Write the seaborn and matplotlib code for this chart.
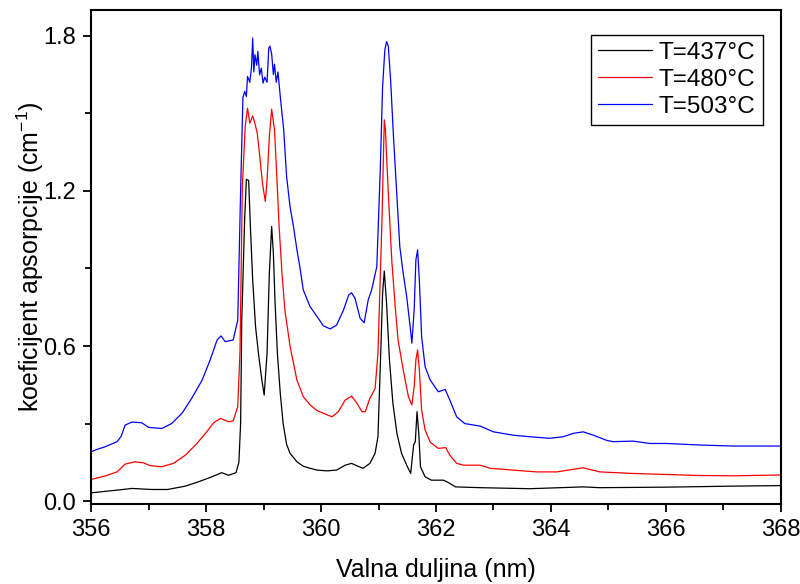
import numpy as np
import pandas as pd
import matplotlib
matplotlib.use("Agg")
import matplotlib.pyplot as plt
from matplotlib.ticker import MultipleLocator
import seaborn as sns

# ---- data ----
wl_437 = [356.00, 356.47, 356.71, 357.05, 357.33, 357.64, 357.87, 358.10, 358.27, 358.39,
          358.52, 358.57, 358.60, 358.62, 358.67, 358.70, 358.74, 358.77, 358.81, 358.86,
          358.91, 358.97, 359.01, 359.06, 359.10, 359.14, 359.17, 359.20, 359.24, 359.29,
          359.34, 359.40, 359.46, 359.58, 359.69, 359.81, 359.93, 360.10, 360.27, 360.42,
          360.53, 360.64, 360.73, 360.85, 360.94, 360.99, 361.04, 361.07, 361.10, 361.14,
          361.19, 361.25, 361.32, 361.40, 361.49, 361.56, 361.61, 361.64, 361.67, 361.70,
          361.73, 361.81, 361.92, 362.13, 362.22, 362.34, 362.77, 363.63, 364.56, 364.85,
          366.01, 367.17, 368.00]
ab_437 = [0.032, 0.043, 0.049, 0.045, 0.045, 0.058, 0.075, 0.094, 0.110, 0.100,
          0.110, 0.150, 0.300, 0.700, 1.088, 1.245, 1.240, 1.062, 0.856, 0.675,
          0.572, 0.468, 0.410, 0.572, 0.881, 1.062, 0.959, 0.765, 0.572, 0.417,
          0.300, 0.220, 0.185, 0.152, 0.135, 0.127, 0.120, 0.117, 0.120, 0.139,
          0.146, 0.135, 0.127, 0.146, 0.185, 0.249, 0.585, 0.800, 0.890, 0.765,
          0.546, 0.378, 0.262, 0.185, 0.139, 0.107, 0.217, 0.230, 0.346, 0.262,
          0.133, 0.094, 0.081, 0.081, 0.071, 0.055, 0.052, 0.048, 0.055, 0.052,
          0.054, 0.058, 0.060]

wl_480 = [356.00, 356.24, 356.45, 356.59, 356.76, 356.91, 357.03, 357.23, 357.43, 357.64,
          357.84, 358.01, 358.13, 358.25, 358.39, 358.47, 358.55, 358.59, 358.63, 358.68,
          358.72, 358.76, 358.81, 358.85, 358.89, 358.94, 358.98, 359.03, 359.06, 359.10,
          359.14, 359.19, 359.23, 359.27, 359.32, 359.37, 359.46, 359.58, 359.69, 359.81,
          359.93, 360.04, 360.19, 360.30, 360.42, 360.53, 360.62, 360.71, 360.77, 360.85,
          360.94, 360.99, 361.06, 361.10, 361.12, 361.17, 361.23, 361.29, 361.34, 361.43,
          361.52, 361.58, 361.62, 361.65, 361.68, 361.71, 361.75, 361.81, 361.90, 362.04,
          362.17, 362.24, 362.36, 362.48, 362.77, 362.94, 363.34, 363.75, 364.10, 364.56,
          364.85, 365.43, 366.01, 366.59, 367.17, 368.00]
ab_480 = [0.084, 0.097, 0.113, 0.143, 0.152, 0.148, 0.137, 0.133, 0.146, 0.178,
          0.223, 0.268, 0.303, 0.320, 0.307, 0.310, 0.365, 0.585, 1.217, 1.449,
          1.520, 1.462, 1.490, 1.460, 1.423, 1.320, 1.230, 1.159, 1.240, 1.410,
          1.516, 1.436, 1.256, 1.062, 0.881, 0.739, 0.600, 0.468, 0.404, 0.372,
          0.350, 0.340, 0.326, 0.346, 0.391, 0.406, 0.380, 0.346, 0.346, 0.398,
          0.435, 0.572, 1.088, 1.475, 1.436, 1.190, 0.933, 0.752, 0.623, 0.507,
          0.404, 0.372, 0.443, 0.546, 0.585, 0.507, 0.352, 0.275, 0.228, 0.204,
          0.207, 0.178, 0.146, 0.139, 0.139, 0.127, 0.120, 0.113, 0.113, 0.129,
          0.113, 0.107, 0.103, 0.099, 0.098, 0.101]

wl_503 = [356.00, 356.10, 356.24, 356.45, 356.52, 356.59, 356.71, 356.88, 357.00, 357.23,
          357.40, 357.58, 357.75, 357.93, 358.07, 358.19, 358.26, 358.33, 358.47, 358.55,
          358.60, 358.64, 358.67, 358.70, 358.72, 358.76, 358.79, 358.81, 358.83, 358.85,
          358.88, 358.90, 358.93, 358.96, 358.99, 359.02, 359.06, 359.09, 359.11, 359.14,
          359.17, 359.19, 359.22, 359.25, 359.29, 359.35, 359.40, 359.46, 359.52, 359.58,
          359.63, 359.69, 359.81, 359.93, 360.04, 360.16, 360.27, 360.39, 360.48, 360.53,
          360.59, 360.68, 360.75, 360.82, 360.88, 360.97, 361.03, 361.07, 361.11, 361.14,
          361.17, 361.21, 361.26, 361.32, 361.37, 361.43, 361.49, 361.55, 361.58, 361.62,
          361.65, 361.68, 361.71, 361.75, 361.81, 361.90, 362.04, 362.16, 362.24, 362.36,
          362.50, 362.77, 363.00, 363.34, 363.63, 363.98, 364.21, 364.39, 364.56, 364.74,
          364.97, 365.08, 365.43, 365.72, 366.01, 366.59, 367.17, 368.00]
ab_503 = [0.191, 0.200, 0.210, 0.230, 0.250, 0.294, 0.306, 0.303, 0.285, 0.281,
          0.300, 0.340, 0.398, 0.468, 0.546, 0.623, 0.639, 0.617, 0.623, 0.700,
          1.200, 1.560, 1.585, 1.565, 1.643, 1.620, 1.680, 1.791, 1.660, 1.727,
          1.686, 1.740, 1.649, 1.675, 1.617, 1.640, 1.620, 1.752, 1.760, 1.730,
          1.650, 1.690, 1.620, 1.660, 1.565, 1.436, 1.256, 1.139, 1.062, 0.972,
          0.907, 0.817, 0.752, 0.714, 0.678, 0.666, 0.681, 0.739, 0.797, 0.806,
          0.785, 0.707, 0.690, 0.778, 0.817, 0.907, 1.280, 1.600, 1.746, 1.778,
          1.760, 1.630, 1.410, 1.178, 0.985, 0.880, 0.791, 0.675, 0.611, 0.739,
          0.933, 0.972, 0.856, 0.636, 0.520, 0.468, 0.423, 0.432, 0.391, 0.326,
          0.300, 0.290, 0.268, 0.255, 0.249, 0.243, 0.249, 0.262, 0.268, 0.255,
          0.235, 0.230, 0.232, 0.223, 0.223, 0.217, 0.213, 0.213]

labels = ["T=437°C", "T=480°C", "T=503°C"]
colors = ["black", "red", "blue"]

x_ticks = [356, 358, 360, 362, 364, 366, 368]
y_ticks = [0.0, 0.6, 1.2, 1.8]

df = pd.concat([
    pd.DataFrame({"wl": wl_437, "ab": ab_437, "T": labels[0]}),
    pd.DataFrame({"wl": wl_480, "ab": ab_480, "T": labels[1]}),
    pd.DataFrame({"wl": wl_503, "ab": ab_503, "T": labels[2]}),
], ignore_index=True)

sns.set_style("ticks")
plt.rcParams["font.family"] = ["Liberation Sans", "DejaVu Sans"]
plt.rcParams["xtick.direction"] = "out"
plt.rcParams["ytick.direction"] = "out"
plt.rcParams["text.color"] = "black"
plt.rcParams["axes.labelcolor"] = "black"
plt.rcParams["xtick.color"] = "black"
plt.rcParams["ytick.color"] = "black"

fig = plt.figure(figsize=(8.0, 5.84), dpi=100)
ax = fig.add_axes([0.114, 0.1375, 0.862, 0.8455])

sns.lineplot(data=df, x="wl", y="ab", hue="T", palette=dict(zip(labels, colors)),
             hue_order=labels, sort=False, estimator=None, linewidth=0.9, ax=ax)

ax.set_xlim(356, 368)
ax.set_ylim(-0.01, 1.90)
ax.set_xticks(x_ticks)
ax.set_xticklabels([str(t) for t in x_ticks])
ax.set_yticks(y_ticks)
ax.set_yticklabels([f"{t:.1f}" for t in y_ticks])
ax.xaxis.set_minor_locator(MultipleLocator(1))
ax.yaxis.set_minor_locator(MultipleLocator(0.3))
ax.tick_params(axis="both", which="major", length=6, width=1.3, labelsize=17,
               colors="black", top=False, right=False, pad=5)
ax.tick_params(axis="both", which="minor", length=4, width=1.3, top=False, right=False)

for sp in ax.spines.values():
    sp.set_linewidth(1.5)
    sp.set_color("black")

ax.set_xlabel("Valna duljina (nm)", fontsize=18, labelpad=12, color="black")
ax.set_ylabel("koeficijent apsorpcije (cm$^{\\mathregular{-1}}$)", fontsize=18,
              labelpad=-2, color="black")

handles, lbls = ax.get_legend_handles_labels()
leg = ax.legend(handles, lbls, loc="upper right", bbox_to_anchor=(0.974, 0.95),
                borderaxespad=0, fontsize=17.5, frameon=True, fancybox=False,
                framealpha=1, edgecolor="black", handlelength=2.2,
                labelspacing=0.2, borderpad=0.3, handletextpad=0.3)
leg.get_frame().set_linewidth(1.0)
for t in leg.get_texts():
    t.set_color("black")

fig.savefig("out.png", dpi=100)
